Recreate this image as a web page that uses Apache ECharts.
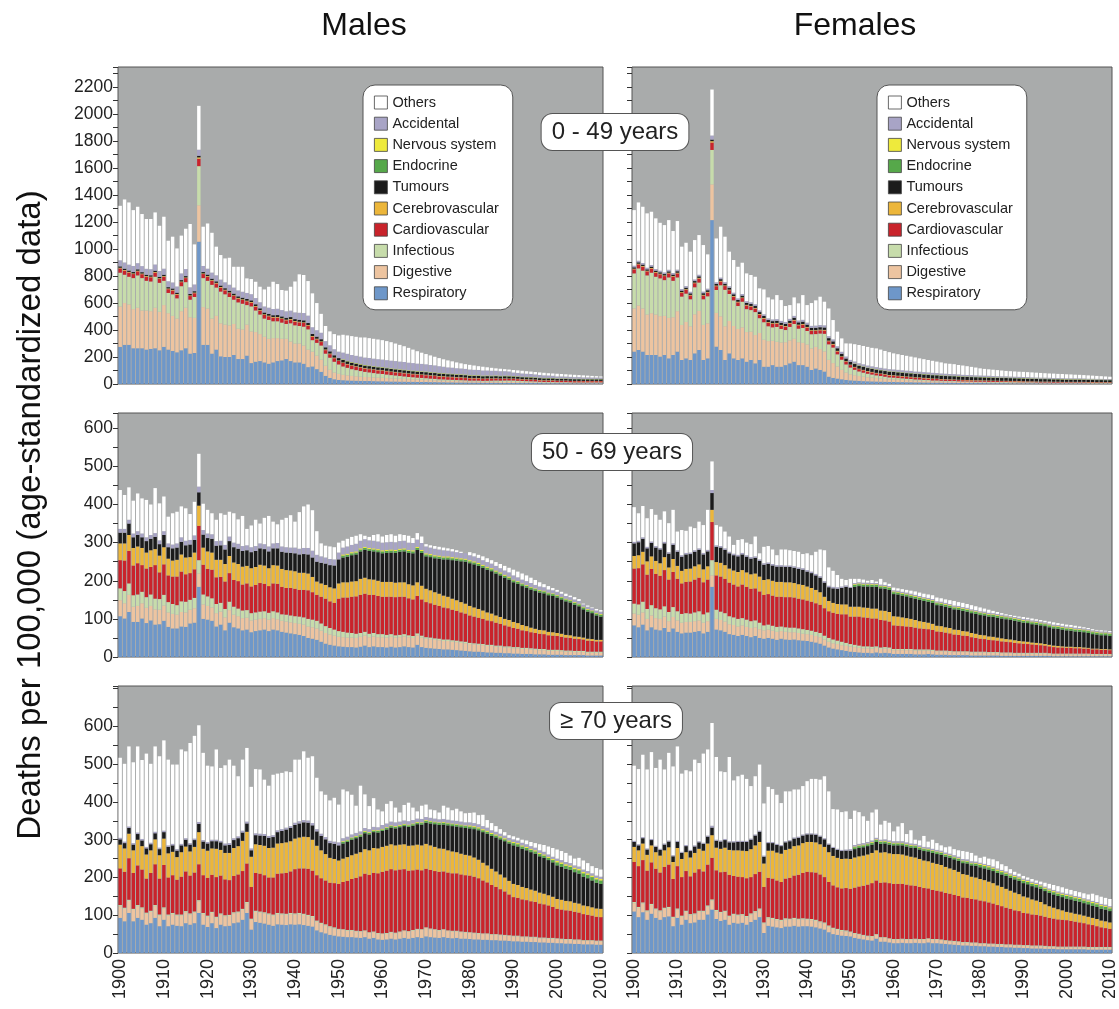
<!DOCTYPE html>
<html>
<head>
<meta charset="utf-8">
<title>Deaths per 100,000 by cause</title>
<script src="https://cdn.jsdelivr.net/npm/echarts@6/dist/echarts.min.js"></script>
<style>
  html, body { margin: 0; padding: 0; background: #fff; }
  #chart { width: 1119px; height: 1009px; }
</style>
</head>
<body>
<div id="chart"></div>
<script>
// years 1900..2010, one value per year in every array below (111 values)
const firstYear = 1900
const lastYear = 2010

const causeNames = ['Respiratory', 'Digestive', 'Infectious', 'Cardiovascular', 'Cerebrovascular',
  'Tumours', 'Endocrine', 'Nervous system', 'Accidental', 'Others']
const legendOrder = ['Others', 'Accidental', 'Nervous system', 'Endocrine', 'Tumours',
  'Cerebrovascular', 'Cardiovascular', 'Infectious', 'Digestive', 'Respiratory']
const causeColors = ['#6e97c9', '#edc4a0', '#c7dcab', '#c9232b', '#ecb63a',
  '#1b1b1b', '#56a84a', '#eeea3c', '#a8a4c6', '#ffffff']

// ---------- Males 0-49 ----------
const respM1 = [
275,290,290,265,265,265,255,260,265,250,
275,255,245,235,250,265,225,230,1055,290,
290,225,255,205,200,200,215,185,185,210,
155,165,170,160,150,160,170,175,185,170,
160,160,150,125,130,110,90,60,45,35,
30,28,26,25,24,23,22,22,21,20,
20,19,18,18,17,17,16,16,15,15,
15,14,14,13,13,12,12,11,11,11,
10,10,10,9,9,9,9,8,8,8,
8,8,7,7,7,7,7,6,6,6,
6,6,6,5,5,5,5,5,5,5,5]
const digM1 = [
300,310,300,290,300,280,290,280,300,285,
310,270,260,250,290,300,270,260,270,280,
270,260,250,245,240,235,230,225,220,230,
235,220,200,190,185,180,170,160,150,145,
140,140,135,130,110,100,90,75,60,50,
45,40,38,35,33,31,30,29,28,27,
26,25,24,23,22,21,20,19,18,17,
16,15,14,13,12,12,11,11,10,10,
9,9,9,8,8,8,8,7,7,7,
7,6,6,6,6,6,5,5,5,5,
5,5,5,5,4,4,4,4,4,4,4]
const infM1 = [
250,210,205,230,240,240,220,220,230,215,
180,150,160,150,185,190,130,155,290,215,
205,250,210,235,225,210,180,195,190,145,
185,160,145,135,140,125,125,120,110,135,
135,130,140,150,85,95,105,90,90,80,
70,62,56,50,46,42,38,35,32,30,
28,26,24,22,20,18,16,15,14,13,
12,11,10,9,9,8,8,7,7,6,
6,6,6,6,7,8,9,10,11,11,
11,10,9,8,7,6,5,4,4,4,
3,3,3,3,3,3,3,3,3,3,3]
const cardM1 = [
32,30,31,30,30,29,30,31,30,29,
30,28,28,27,30,30,27,28,55,30,
30,30,30,29,29,29,28,28,28,28,
28,28,28,27,27,27,27,27,27,27,
27,27,27,27,26,26,26,26,26,26,
26,26,25,25,25,25,24,24,24,24,
24,24,23,23,23,23,23,22,22,22,
22,21,21,20,20,19,19,18,18,17,
17,16,16,15,15,14,14,13,13,12,
12,12,11,11,11,11,10,10,10,10,
10,10,10,9,9,9,9,9,9,9,9]
const cereM1 = [
5,5,5,5,5,5,5,5,5,5,
5,5,5,5,5,5,5,5,10,5,
5,5,5,5,5,5,5,5,5,5,
5,5,5,5,5,5,5,5,5,5,
5,5,5,5,5,5,5,5,5,5,
4,4,4,4,4,4,4,4,4,4,
4,4,4,4,4,4,4,4,4,4,
4,4,4,4,4,4,4,4,4,4,
3,3,3,3,3,3,3,3,3,3,
3,3,3,3,3,3,3,3,3,3,
2,2,2,2,2,2,2,2,2,2,2]
const tumM1 = [
10,10,10,10,10,10,10,10,10,10,
10,10,10,10,10,10,10,10,12,10,
11,11,11,11,11,12,12,12,12,12,
12,13,13,13,13,13,14,14,14,14,
14,14,15,15,15,15,16,16,16,17,
17,18,18,18,18,18,18,18,18,18,
18,18,18,18,18,18,18,18,18,18,
18,18,18,18,17,17,17,17,17,17,
16,16,16,16,16,15,15,15,15,15,
14,14,14,14,14,13,13,13,13,13,
12,12,12,12,12,12,11,11,11,11,11]
const endoM1 = [
0,0,0,0,0,0,0,0,0,0,
0,0,0,0,0,0,0,0,0,0,
0,0,0,0,0,0,0,0,0,0,
0,0,0,0,0,0,0,0,0,0,
0,0,0,0,0,0,0,0,0,0,
0,2,2,2,2,2,2,2,2,2,
2,2,2,2,2,2,2,2,2,2,
2,2,2,2,2,2,2,2,2,2,
2,2,2,2,2,2,2,2,2,2,
2,2,2,2,2,2,2,2,2,2,
2,2,2,2,2,2,2,2,2,2,2]
const nervM1 = [
0,0,0,0,0,0,0,0,0,0,
0,0,0,0,0,0,0,0,0,0,
0,0,0,0,0,0,0,0,0,0,
0,0,0,0,0,0,0,0,0,0,
0,0,0,0,0,0,0,0,0,0,
0,3,3,3,3,3,3,3,3,3,
3,3,3,3,3,3,3,3,3,3,
3,3,3,3,3,3,3,3,3,3,
3,3,3,3,3,3,3,3,3,3,
2,2,2,2,2,2,2,2,2,2,
2,2,2,2,2,2,2,2,2,2,2]
const accM1 = [
45,46,44,45,46,45,44,45,46,44,
45,44,45,46,50,52,50,50,45,45,
44,45,45,44,44,45,45,44,44,45,
46,46,45,45,46,46,47,47,48,48,
50,52,54,55,50,48,48,46,45,45,
48,50,52,53,54,55,55,56,56,56,
56,56,57,57,57,57,56,56,55,55,
54,53,52,50,48,46,45,44,43,42,
41,40,39,38,37,36,35,34,33,32,
26,25,24,23,22,21,20,19,18,16,
14,14,13,13,12,12,11,11,10,10,10]
const totalM1 = [
1321,1368,1346,1289,1314,1260,1223,1223,1272,1173,
1240,1062,1092,1005,1100,1151,1186,1035,2062,1166,
1190,1121,1018,956,931,936,869,869,869,783,
778,758,721,701,721,758,741,697,692,721,
760,813,808,763,672,600,520,430,390,370,
360,365,360,355,350,345,345,340,335,330,
325,318,310,300,290,280,268,255,243,232,
222,212,202,192,183,175,168,160,153,147,
142,137,132,128,124,120,116,113,110,107,
104,101,98,95,92,89,86,83,80,78,
76,74,72,70,68,66,64,62,60,58,56]

// ---------- Females 0-49 ----------
const respF1 = [
240,252,240,215,215,215,203,215,190,215,
240,178,190,178,227,252,178,190,1215,277,
252,178,227,190,178,190,165,178,153,178,
128,128,140,128,128,140,153,165,140,140,
128,104,115,104,92,54,45,40,35,30,
27,25,23,21,20,19,18,17,16,15,
15,14,14,13,13,12,12,11,11,10,
10,10,9,9,9,8,8,8,7,7,
7,7,6,6,6,6,6,5,5,5,
5,5,5,5,4,4,4,4,4,4,
4,4,4,4,4,3,3,3,3,3,3]
const digF1 = [
320,330,320,300,310,300,300,290,300,280,
300,260,270,250,290,290,260,260,265,250,
250,250,240,240,230,230,220,210,210,200,
200,190,180,185,180,170,170,170,170,165,
165,160,160,155,150,125,110,90,70,55,
45,40,36,33,30,28,26,24,22,20,
19,18,17,16,15,14,13,12,11,10,
10,9,9,8,8,8,7,7,7,6,
6,6,6,5,5,5,5,5,5,4,
4,4,4,4,4,4,4,3,3,3,
3,3,3,3,3,3,3,3,3,3,3]
const infF1 = [
260,275,280,290,300,280,280,265,300,270,
250,210,210,200,200,210,190,200,255,170,
230,270,200,190,170,190,170,160,170,110,
130,110,100,110,100,90,100,110,100,110,
100,105,95,115,130,115,115,90,75,60,
50,40,34,30,26,23,20,18,16,14,
13,12,11,10,9,8,8,7,7,6,
6,5,5,5,5,4,4,4,4,4,
4,4,4,4,4,4,4,4,4,4,
4,4,4,3,3,3,3,3,3,3,
3,3,3,3,3,3,3,2,2,2,2]
const cardF1 = [
30,30,30,30,30,30,30,30,30,30,
30,28,28,28,30,30,28,28,55,28,
28,28,28,27,27,27,27,26,26,26,
26,26,26,25,25,25,25,25,25,25,
25,25,24,24,24,23,22,21,20,19,
18,18,17,17,16,16,15,15,15,14,
14,14,13,13,13,12,12,12,11,11,
11,10,10,10,9,9,9,8,8,8,
8,7,7,7,7,6,6,6,6,6,
6,5,5,5,5,5,5,5,5,4,
4,4,4,4,4,4,4,4,4,4,4]
const cereF1 = [
5,5,5,5,5,5,5,5,5,5,
5,5,5,5,5,5,5,5,10,5,
5,5,5,5,5,5,5,5,5,5,
5,5,5,5,5,5,5,5,5,5,
5,5,5,5,5,5,5,5,5,5,
4,4,4,4,4,4,4,4,4,4,
4,4,4,4,4,4,4,4,4,4,
3,3,3,3,3,3,3,3,3,3,
3,3,3,3,3,3,3,3,3,3,
2,2,2,2,2,2,2,2,2,2,
2,2,2,2,2,2,2,2,2,2,2]
const tumF1 = [
10,10,10,10,10,10,10,10,10,11,
11,11,11,11,11,11,12,12,12,12,
12,12,13,13,13,13,14,14,14,14,
15,15,15,15,16,16,16,16,17,17,
17,17,18,18,18,18,19,19,19,20,
20,21,21,22,22,22,23,23,23,24,
24,24,24,24,24,24,24,24,24,24,
24,24,23,23,23,23,22,22,22,22,
21,21,21,21,20,20,20,20,19,19,
19,19,18,18,18,18,17,17,17,17,
16,16,16,16,15,15,15,15,15,14,14]
const endoF1 = [
0,0,0,0,0,0,0,0,0,0,
0,0,0,0,0,0,0,0,0,0,
0,0,0,0,0,0,0,0,0,0,
0,0,0,0,0,0,0,0,0,0,
0,0,0,0,0,0,0,0,0,0,
0,2,2,2,2,2,2,2,2,2,
2,2,2,2,2,2,2,2,2,2,
2,2,2,2,2,2,2,2,2,2,
2,2,2,2,2,2,2,2,2,2,
2,2,2,2,2,2,2,2,2,2,
2,2,2,2,2,2,2,2,2,2,2]
const nervF1 = [
0,0,0,0,0,0,0,0,0,0,
0,0,0,0,0,0,0,0,0,0,
0,0,0,0,0,0,0,0,0,0,
0,0,0,0,0,0,0,0,0,0,
0,0,0,0,0,0,0,0,0,0,
0,2,2,2,2,2,2,2,2,2,
2,2,2,2,2,2,2,2,2,2,
2,2,2,2,2,2,2,2,2,2,
2,2,2,2,2,2,2,2,2,2,
2,2,2,2,2,2,2,2,2,2,
2,2,2,2,2,2,2,2,2,2,2]
const accF1 = [
12,12,12,12,12,12,12,12,12,12,
12,12,12,12,12,12,12,12,30,12,
12,12,12,12,12,12,13,13,13,13,
13,13,13,13,14,14,14,14,14,14,
15,15,16,16,16,15,15,15,15,15,
15,15,15,15,15,15,15,15,15,15,
15,15,15,15,15,14,14,14,14,14,
13,13,13,12,12,12,11,11,11,10,
10,10,10,9,9,9,9,8,8,8,
8,8,7,7,7,7,7,6,6,6,
6,6,6,6,6,5,5,5,5,5,5]
const totalF1 = [
1289,1346,1314,1265,1277,1228,1195,1178,1215,1134,
1208,1018,1047,981,1067,1104,1030,961,2183,1079,
1166,1092,981,919,869,899,820,808,795,709,
701,642,627,659,622,578,585,642,598,659,
585,600,620,647,610,560,474,388,338,301,
300,295,289,282,275,268,264,255,245,236,
227,221,215,209,203,197,190,184,178,172,
166,160,153,150,147,141,137,132,127,122,
116,112,109,106,103,100,97,95,93,91,
90,88,86,84,82,80,78,77,75,74,
72,71,69,68,66,64,62,60,58,56,54]

// ---------- Males 50-69 ----------
const respM2 = [
107,101,118,92,92,101,89,96,85,86,
95,79,75,75,80,79,88,90,184,100,
98,95,80,85,70,90,78,75,70,72,
65,68,70,72,68,72,70,66,64,62,
60,58,55,50,48,45,40,35,32,30,
28,27,26,26,25,27,30,26,28,26,
26,25,27,25,26,28,26,25,32,26,
24,23,22,21,20,20,19,18,17,16,
15,14,14,13,12,12,11,11,10,10,
9,9,8,8,8,7,7,7,6,6,
6,6,5,5,5,5,5,4,4,4,4]
const digM2 = [
42,40,45,40,42,40,40,38,40,38,
40,38,38,36,38,38,36,38,35,38,
36,35,35,34,34,33,33,32,32,31,
31,30,30,30,30,30,29,29,29,29,
29,29,30,30,30,30,29,28,27,26,
25,25,25,25,25,26,26,26,26,26,
26,26,26,26,26,26,26,25,25,25,
24,24,23,23,22,22,21,21,20,20,
19,19,18,18,17,17,16,16,15,15,
14,14,13,13,12,12,11,11,10,10,
10,9,9,9,8,8,8,7,7,7,7]
const infM2 = [
31,32,30,30,30,30,28,30,28,28,
28,27,26,25,28,28,26,27,35,26,
25,24,24,23,22,22,21,20,20,20,
19,19,19,18,18,18,18,17,18,18,
18,19,19,20,20,20,19,18,17,16,
15,14,13,12,11,10,10,9,9,8,
8,7,7,6,6,6,5,5,5,5,
4,4,4,4,4,4,4,4,4,4,
3,3,3,3,3,3,3,3,3,3,
3,3,3,3,3,3,3,3,3,3,
3,3,3,3,3,3,3,3,3,3,3]
const cardM2 = [
74,80,85,78,82,70,75,72,88,70,
80,70,72,75,78,72,70,75,90,78,
72,75,70,68,72,75,70,72,68,70,
70,72,75,72,70,73,75,72,70,72,
72,70,72,75,72,68,70,72,70,70,
85,90,92,95,98,100,100,102,100,100,
98,100,98,100,100,98,97,96,98,95,
92,90,88,86,84,82,80,78,76,74,
72,70,68,66,64,62,60,57,55,52,
50,48,46,44,42,41,40,39,38,37,
36,35,34,33,32,31,30,29,28,27,27]
const cereM2 = [
44,45,42,46,44,45,42,44,42,44,
45,44,42,44,45,44,42,44,53,45,
46,45,46,45,46,45,46,45,47,46,
48,47,48,48,47,48,48,47,47,46,
46,45,45,44,40,35,35,36,37,38,
40,40,40,40,40,42,42,41,40,40,
39,39,39,38,38,38,37,37,36,36,
35,34,33,32,31,30,29,28,27,26,
25,24,23,22,21,20,19,18,17,17,
16,15,14,13,12,11,10,10,9,9,
8,8,7,7,6,6,5,5,5,4,4]
const tumM2 = [
28,28,30,28,30,28,30,30,32,30,
32,30,32,32,33,32,33,33,35,34,
35,36,37,38,38,39,40,40,41,41,
42,42,43,43,44,44,45,45,46,46,
47,48,49,50,51,52,54,56,58,60,
63,65,67,69,70,72,73,74,74,75,
75,76,77,78,80,81,82,84,85,86,
85,87,89,92,95,98,101,104,107,110,
112,113,113,112,112,111,110,109,108,106,
104,103,102,101,100,99,98,97,96,95,
93,90,88,86,83,80,74,71,68,64,61]
const endoM2 = [
0,0,0,0,0,0,0,0,0,0,
0,0,0,0,0,0,0,0,0,0,
0,0,0,0,0,0,0,0,0,0,
0,0,0,0,0,0,0,0,0,0,
0,0,0,0,0,0,0,0,0,0,
0,5,5,5,5,5,5,5,5,5,
5,5,5,5,5,5,5,5,5,5,
5,5,5,5,5,5,5,5,5,5,
5,5,5,5,5,5,5,5,5,5,
5,5,5,5,5,5,5,5,5,5,
5,5,5,5,5,5,5,5,5,5,5]
const nervM2 = [
0,0,0,0,0,0,0,0,0,0,
0,0,0,0,0,0,0,0,0,0,
0,0,0,0,0,0,0,0,0,0,
0,0,0,0,0,0,0,0,0,0,
0,0,0,0,0,0,0,0,0,0,
0,3,3,3,3,3,3,3,3,3,
3,3,3,3,3,3,3,3,3,3,
3,3,3,3,3,3,3,3,3,3,
3,3,3,3,3,3,3,3,3,3,
2,2,2,2,2,2,2,2,2,2,
2,2,2,2,2,2,2,2,2,2,2]
const accM2 = [
10,10,10,10,10,10,10,10,10,10,
10,10,10,11,12,12,12,12,15,12,
12,12,12,12,12,12,12,13,13,13,
13,13,13,13,13,13,14,14,14,14,
15,15,16,17,18,18,17,16,16,16,
18,18,19,19,20,20,20,20,20,20,
20,20,20,20,20,20,19,19,19,18,
18,17,17,16,16,15,15,14,14,14,
13,13,13,12,12,12,12,11,11,11,
11,10,10,10,10,9,9,9,8,8,
8,8,7,7,7,7,6,6,6,6,6]
const totalM2 = [
438,425,445,410,429,416,412,400,443,403,
421,368,377,381,395,390,375,407,533,402,
386,377,360,377,373,381,377,361,370,336,
345,360,350,365,370,355,348,360,365,372,
355,380,395,400,385,330,298,292,290,288,
300,305,310,315,318,322,318,315,320,322,
316,320,322,318,322,320,318,312,325,316,
296,293,291,289,287,285,283,280,276,272,
275,272,268,264,259,254,249,244,239,234,
229,224,219,214,208,202,196,191,186,181,
176,171,166,161,157,152,140,135,130,126,123]

// ---------- Females 50-69 ----------
const respF2 = [
83,78,85,70,78,72,70,76,66,75,
66,62,64,64,66,68,62,66,184,72,
70,66,60,58,55,58,55,52,55,50,
48,50,48,45,48,46,45,46,44,43,
42,40,38,35,30,25,22,20,18,16,
14,13,12,11,11,10,12,10,11,10,
8,8,8,8,8,7,7,7,8,7,
6,6,6,5,5,5,5,5,4,4,
4,4,4,4,4,3,3,3,3,3,
3,3,3,3,3,3,3,2,2,2,
2,2,2,2,2,2,2,2,2,2,2]
const digF2 = [
31,33,32,30,31,30,30,30,28,30,
30,28,28,28,28,28,28,28,30,28,
27,27,26,26,25,25,24,24,23,23,
22,22,21,21,20,20,20,19,19,18,
18,18,17,17,16,15,14,14,13,13,
13,13,12,12,12,12,12,11,11,11,
10,10,10,10,10,10,10,10,9,9,
9,9,9,9,8,8,8,8,8,8,
8,8,7,7,7,7,7,7,6,6,
6,6,6,6,6,6,5,5,5,5,
5,5,5,5,5,5,4,4,4,4,4]
const infF2 = [
26,27,28,26,27,26,25,27,24,26,
24,23,23,22,23,24,22,23,40,24,
22,22,21,20,20,19,19,18,18,17,
13,13,13,13,12,12,12,12,12,12,
11,11,11,11,10,10,10,9,9,8,
7,6,6,5,5,5,4,4,4,4,
3,3,3,3,3,3,3,3,3,3,
2,2,2,2,2,2,2,2,2,2,
2,2,2,2,2,2,2,2,2,2,
2,2,2,2,2,2,2,2,2,2,
2,2,2,2,2,2,2,2,2,2,2]
const cardF2 = [
92,95,98,90,95,90,88,95,85,92,
85,80,82,84,86,88,84,86,100,90,
92,90,88,86,85,88,86,85,84,82,
80,80,79,79,78,79,80,79,78,78,
77,76,75,74,72,70,70,70,72,75,
72,74,76,76,75,74,73,72,70,68,
62,61,60,59,58,57,55,54,53,52,
50,49,47,46,44,43,41,40,38,36,
34,33,32,31,30,29,28,27,26,25,
24,23,22,21,20,19,18,17,16,16,
15,15,14,14,13,13,12,12,11,11,10]
const cereF2 = [
33,34,33,35,33,34,33,34,32,34,
34,33,34,34,35,35,34,35,32,35,
36,36,37,37,38,38,38,38,39,39,
39,39,39,39,39,39,39,38,38,38,
37,36,35,33,30,27,26,26,26,26,
26,26,26,26,26,26,26,25,25,25,
24,24,23,22,21,20,19,18,17,16,
15,15,14,14,13,13,12,12,11,11,
10,10,9,9,8,8,7,7,7,6,
6,6,5,5,5,4,4,4,4,3,
3,3,3,3,3,2,2,2,2,2,2]
const tumF2 = [
33,34,34,34,35,35,36,36,36,37,
37,37,38,38,38,38,39,39,44,40,
40,40,40,40,41,41,41,41,41,41,
40,40,40,40,40,40,40,40,40,40,
39,39,38,38,37,36,38,40,43,46,
49,52,54,55,56,57,57,58,58,58,
58,58,57,57,56,56,56,55,55,55,
54,54,54,53,53,53,53,52,52,52,
52,52,52,52,52,52,52,51,51,51,
49,49,48,48,47,47,46,45,45,44,
43,42,41,40,40,39,38,37,36,36,35]
const endoF2 = [
0,0,0,0,0,0,0,0,0,0,
0,0,0,0,0,0,0,0,0,0,
0,0,0,0,0,0,0,0,0,0,
0,0,0,0,0,0,0,0,0,0,
0,0,0,0,0,0,0,0,0,0,
0,5,5,5,5,5,5,5,5,5,
5,5,5,5,5,5,5,5,5,5,
5,5,5,5,5,5,5,5,5,5,
5,5,5,5,5,5,5,5,5,5,
5,5,5,5,5,5,5,5,5,5,
5,5,5,5,5,5,5,5,5,5,5]
const nervF2 = [
0,0,0,0,0,0,0,0,0,0,
0,0,0,0,0,0,0,0,0,0,
0,0,0,0,0,0,0,0,0,0,
0,0,0,0,0,0,0,0,0,0,
0,0,0,0,0,0,0,0,0,0,
0,2,2,2,2,2,2,2,2,2,
2,2,2,2,2,2,2,2,2,2,
2,2,2,2,2,2,2,2,2,2,
2,2,2,2,2,2,2,2,2,2,
2,2,2,2,2,2,2,2,2,2,
2,2,2,2,2,2,2,2,2,2,2]
const accF2 = [
4,4,4,4,4,4,4,4,4,4,
4,4,4,4,4,4,4,4,8,4,
4,4,4,4,4,4,4,4,4,4,
4,4,4,4,4,4,4,4,4,4,
4,4,4,4,4,4,4,4,4,4,
3,3,3,3,3,3,3,3,3,3,
3,3,3,3,3,3,3,3,3,3,
3,3,3,3,3,3,3,3,3,3,
3,3,3,3,3,3,3,3,3,3,
3,3,3,3,3,3,3,3,3,3,
3,3,3,3,3,3,3,3,3,3,3]
const totalF2 = [
393,377,396,364,388,373,360,382,351,386,
329,333,331,342,338,355,346,386,513,346,
342,329,316,294,307,309,300,296,316,272,
289,291,282,267,282,282,280,278,276,270,
272,267,276,282,280,235,226,215,205,202,
205,205,205,203,200,202,198,205,196,192,
182,180,178,176,174,172,169,166,164,162,
156,154,151,149,147,144,142,139,136,133,
130,127,124,121,118,115,112,110,108,106,
105,103,101,99,97,95,93,91,89,87,
85,84,82,80,78,76,73,71,70,69,68]

// ---------- Males >= 70 ----------
const respM3 = [
93,84,106,84,93,88,75,79,93,71,
88,71,75,72,71,79,75,79,106,75,
69,79,66,75,71,72,79,81,88,106,
62,82,80,78,75,72,76,75,74,76,
75,76,74,72,70,60,55,52,48,46,
44,43,42,42,41,40,42,38,40,36,
35,36,38,36,38,40,38,40,42,40,
44,42,41,40,42,40,39,40,38,38,
37,36,36,35,35,34,34,33,33,32,
31,31,30,30,29,29,28,28,27,27,
26,26,25,25,24,24,23,23,23,22,22]
const digM3 = [
31,33,32,30,31,30,29,30,31,28,
30,28,28,27,28,29,27,28,31,28,
27,27,27,27,26,26,26,26,26,26,
26,27,27,27,27,27,27,27,27,27,
27,27,27,26,25,23,22,21,20,19,
18,18,17,17,16,16,16,15,15,15,
15,15,16,16,17,18,18,19,20,21,
22,21,20,19,19,18,18,17,17,16,
16,16,15,15,15,14,14,14,13,13,
13,13,12,12,12,12,11,11,11,11,
11,10,10,10,10,10,9,9,9,9,9]
const infM3 = [
3,3,3,3,3,3,3,3,3,3,
3,3,3,3,3,3,3,3,3,3,
3,3,3,3,3,3,3,3,3,3,
3,3,3,3,3,3,3,3,3,3,
3,3,3,3,3,3,3,3,3,3,
2,2,2,2,2,2,2,2,2,2,
2,2,2,2,2,2,2,2,2,2,
2,2,2,2,2,2,2,2,2,2,
2,2,2,2,2,2,2,2,2,2,
2,2,2,2,2,2,2,2,2,2,
2,2,2,2,2,2,2,2,2,2,2]
const cardM3 = [
97,95,110,95,105,100,90,100,108,95,
112,98,100,92,100,105,100,103,95,100,
100,98,105,100,95,92,96,98,100,102,
84,100,100,98,95,98,104,106,108,110,
117,118,120,122,120,120,118,116,115,117,
119,125,130,135,140,145,150,152,155,158,
163,165,166,165,164,162,160,158,157,156,
155,155,154,154,153,153,152,152,151,150,
150,148,145,140,135,130,125,120,115,108,
102,100,98,96,94,92,90,88,86,82,
78,77,76,75,73,71,69,67,65,63,62]
const cereM3 = [
63,62,65,60,68,62,64,60,66,62,
70,64,62,60,65,66,64,68,85,70,
72,70,75,68,70,72,74,75,80,84,
80,76,76,78,78,79,80,80,81,80,
81,82,84,84,82,78,74,70,66,64,
62,62,63,63,64,64,65,65,66,66,
66,66,66,66,66,66,66,66,66,66,
66,65,64,62,60,59,58,56,55,54,
53,51,49,47,45,43,41,39,37,36,
35,34,33,32,31,30,29,28,27,27,
26,26,25,25,24,24,23,23,22,22,22]
const tumM3 = [
14,14,15,15,15,15,16,16,16,16,
17,17,17,17,18,18,18,18,22,19,
19,19,20,20,20,21,21,21,22,22,
17,24,25,26,27,28,30,32,34,35,
36,37,38,38,38,38,38,39,39,40,
40,40,40,41,41,41,42,42,42,42,
42,43,44,45,46,48,50,52,54,55,
56,58,60,62,64,66,67,68,70,71,
72,75,78,81,84,87,90,93,96,99,
102,102,101,100,99,98,96,95,93,91,
89,87,85,83,81,79,76,74,71,68,66]
const endoM3 = [
0,0,0,0,0,0,0,0,0,0,
0,0,0,0,0,0,0,0,0,0,
0,0,0,0,0,0,0,0,0,0,
0,0,0,0,0,0,0,0,0,0,
0,0,0,0,0,0,0,0,0,0,
0,4,4,4,4,4,4,4,4,4,
4,4,4,4,4,4,4,4,4,4,
5,5,5,5,5,5,5,5,5,5,
5,5,5,5,5,5,5,5,5,5,
6,6,6,6,6,6,6,6,6,6,
8,8,8,8,8,9,9,9,9,9,9]
const nervM3 = [
0,0,0,0,0,0,0,0,0,0,
0,0,0,0,0,0,0,0,0,0,
0,0,0,0,0,0,0,0,0,0,
0,0,0,0,0,0,0,0,0,0,
0,0,0,0,0,0,0,0,0,0,
0,2,2,2,2,2,2,2,2,2,
2,2,2,2,2,2,2,2,2,2,
2,2,2,2,2,2,2,2,2,2,
3,3,3,3,3,3,3,3,3,3,
3,3,3,3,3,3,3,3,3,3,
4,4,4,4,4,4,4,4,4,4,4]
const accM3 = [
4,4,4,4,4,4,4,4,4,4,
4,4,4,4,4,4,4,4,5,4,
4,4,4,4,5,5,5,5,5,5,
5,5,5,5,5,5,5,5,5,5,
6,6,6,6,6,6,6,6,6,6,
8,8,8,8,8,8,8,8,8,8,
10,10,10,10,9,9,9,9,9,9,
8,8,8,8,8,8,8,8,8,8,
8,8,8,8,8,7,7,7,7,7,
7,7,7,7,7,7,7,7,6,6,
6,6,6,6,6,6,6,6,6,6,6]
const totalM3 = [
517,501,547,505,547,511,528,501,547,521,
563,512,499,499,539,534,556,575,603,530,
496,494,539,490,497,512,496,468,512,543,
440,487,486,459,443,472,475,477,481,479,
512,512,534,517,521,464,428,419,404,411,
393,433,428,419,390,443,420,389,410,380,
375,395,402,385,372,392,398,385,375,390,
393,380,378,372,390,385,378,382,375,370,
371,372,365,366,352,344,336,328,320,312,
309,305,300,298,294,291,288,286,282,278,
274,270,265,258,250,252,245,238,230,225,221]

// ---------- Females >= 70 ----------
const respF3 = [
110,95,108,88,104,93,88,95,97,71,
93,75,88,79,81,88,88,102,115,90,
85,88,75,80,78,80,75,82,88,95,
53,72,70,68,66,70,70,72,70,71,
71,70,68,65,62,55,50,48,46,45,
44,40,38,36,34,33,38,30,30,28,
26,26,27,26,26,27,26,26,28,26,
26,25,24,23,22,21,20,20,19,19,
18,18,17,17,16,16,15,15,14,14,
13,13,12,12,12,11,11,11,10,10,
10,10,10,10,10,9,9,9,9,9,9]
const digF3 = [
22,24,23,22,23,22,22,22,22,22,
22,21,21,21,21,21,21,21,24,21,
21,21,21,21,21,20,20,20,20,20,
25,20,20,19,19,19,18,18,18,18,
17,17,17,16,16,15,14,13,12,12,
11,11,11,10,10,10,10,10,10,9,
9,9,9,9,9,9,9,9,9,9,
9,9,8,8,8,8,7,7,7,7,
6,6,6,6,6,6,6,6,6,6,
6,6,6,6,6,6,5,5,5,5,
5,5,5,5,5,5,5,5,5,5,5]
const infF3 = [
3,3,3,3,3,3,3,3,3,3,
3,3,3,3,3,3,3,3,3,3,
3,3,3,3,3,3,3,3,3,3,
3,3,3,3,3,3,3,3,3,3,
3,3,3,3,3,3,3,3,3,3,
2,2,2,2,2,2,2,2,2,2,
2,2,2,2,2,2,2,2,2,2,
2,2,2,2,2,2,2,2,2,2,
2,2,2,2,2,2,2,2,2,2,
2,2,2,2,2,2,2,2,2,2,
2,2,2,2,2,2,2,2,2,2,2]
const cardF3 = [
106,108,112,105,110,105,100,108,112,100,
112,102,105,100,108,110,104,108,110,105,
105,103,108,100,100,98,100,96,98,97,
94,104,104,102,100,105,108,112,116,120,
124,124,125,124,120,115,112,110,110,112,
113,120,125,130,135,140,142,144,145,146,
146,146,145,144,142,140,138,135,132,130,
128,127,125,124,122,120,118,117,115,114,
113,111,109,106,103,100,97,94,91,89,
85,84,82,81,79,77,75,73,72,71,
70,68,66,64,62,60,58,55,52,50,48]
const cereF3 = [
40,42,44,42,45,44,45,44,46,45,
48,48,50,50,52,54,55,56,60,60,
62,64,66,68,70,70,72,74,76,79,
62,72,74,74,75,76,77,78,78,79,
79,80,80,80,80,79,78,78,78,78,
79,80,80,80,80,80,80,80,80,79,
79,79,78,77,76,75,74,73,72,72,
71,70,69,67,66,64,62,61,59,58,
57,56,55,54,52,51,50,48,47,45,
44,42,40,38,36,33,31,29,27,25,
22,22,21,21,20,20,19,19,18,18,17]
const tumF3 = [
13,13,14,14,14,14,15,15,15,15,
16,16,16,17,17,17,18,18,20,18,
19,20,20,21,22,23,24,25,26,27,
18,20,20,20,20,20,20,20,20,20,
20,20,20,20,20,20,21,21,21,21,
22,22,22,22,22,22,22,23,23,23,
23,23,24,24,24,25,25,25,26,26,
26,27,27,28,28,29,29,30,30,31,
31,31,32,32,33,33,34,34,35,35,
35,35,35,35,35,35,35,35,35,35,
35,35,34,34,33,33,32,32,31,31,30]
const endoF3 = [
0,0,0,0,0,0,0,0,0,0,
0,0,0,0,0,0,0,0,0,0,
0,0,0,0,0,0,0,0,0,0,
0,0,0,0,0,0,0,0,0,0,
0,0,0,0,0,0,0,0,0,0,
0,5,5,5,5,5,5,5,5,5,
5,5,5,5,5,5,5,5,5,5,
5,5,5,5,5,5,5,5,5,5,
6,6,6,6,6,6,6,6,6,6,
6,6,6,6,6,6,6,6,6,6,
7,7,7,7,7,7,7,7,7,7,7]
const nervF3 = [
0,0,0,0,0,0,0,0,0,0,
0,0,0,0,0,0,0,0,0,0,
0,0,0,0,0,0,0,0,0,0,
0,0,0,0,0,0,0,0,0,0,
0,0,0,0,0,0,0,0,0,0,
0,2,2,2,2,2,2,2,2,2,
2,2,2,2,2,2,2,2,2,2,
2,2,2,2,2,2,2,2,2,2,
3,3,3,3,3,3,3,3,3,3,
3,3,3,3,3,3,3,3,3,3,
3,3,3,3,3,3,3,3,3,3,3]
const accF3 = [
3,3,3,3,3,3,3,3,3,3,
3,3,3,3,3,3,3,3,5,3,
3,3,3,3,3,3,3,3,3,3,
3,3,3,3,3,3,3,3,3,3,
3,3,3,3,3,3,3,3,3,3,
4,4,4,4,4,4,4,4,4,4,
4,4,4,4,4,4,4,4,4,4,
4,4,4,4,4,4,4,4,4,4,
3,3,3,3,3,3,3,3,3,3,
3,3,3,3,3,3,3,3,3,3,
3,3,3,3,3,3,3,3,3,3,3]
const totalF3 = [
496,487,525,486,532,490,512,486,530,494,
547,475,484,481,512,503,528,539,609,519,
481,479,519,457,468,472,461,442,468,499,
396,440,434,419,397,428,428,433,433,442,
455,461,461,459,468,428,381,380,373,375,
355,377,373,362,350,372,380,340,350,345,
322,335,344,315,325,300,298,310,295,300,
291,285,280,282,275,272,270,268,265,258,
252,255,250,248,243,235,230,222,215,210,
204,200,196,192,189,186,183,180,177,174,
170,167,164,161,158,155,157,153,149,146,143]

// panels: Males / Females for 0-49, 50-69, >=70
const panelSeries = [
  [respM1, digM1, infM1, cardM1, cereM1, tumM1, endoM1, nervM1, accM1, totalM1],
  [respF1, digF1, infF1, cardF1, cereF1, tumF1, endoF1, nervF1, accF1, totalF1],
  [respM2, digM2, infM2, cardM2, cereM2, tumM2, endoM2, nervM2, accM2, totalM2],
  [respF2, digF2, infF2, cardF2, cereF2, tumF2, endoF2, nervF2, accF2, totalF2],
  [respM3, digM3, infM3, cardM3, cereM3, tumM3, endoM3, nervM3, accM3, totalM3],
  [respF3, digF3, infF3, cardF3, cereF3, tumF3, endoF3, nervF3, accF3, totalF3]
]
const yMax = [2350, 2350, 640, 640, 707, 707]
const yStep = [200, 200, 100, 100, 100, 100]
const yLastLabel = [2200, 2200, 600, 600, 600, 600]
const ageLabels = ['0 - 49 years', '50 - 69 years', '\u2265 70 years']

const yearCats = []
for (let y = firstYear; y <= lastYear; y++) yearCats.push(String(y))

const grids = [
  { left: 118, top: 67, width: 485, height: 317 },
  { left: 632, top: 67, width: 480, height: 317 },
  { left: 118, top: 413, width: 485, height: 244 },
  { left: 632, top: 413, width: 480, height: 244 },
  { left: 118, top: 686, width: 485, height: 267 },
  { left: 632, top: 686, width: 480, height: 267 }
].map(g => Object.assign(g, {
  show: true, backgroundColor: '#a9abab', borderColor: '#555', borderWidth: 1
}))

const font = 'Liberation Sans, Arial, Helvetica, sans-serif'

const xAxes = grids.map((g, i) => ({
  gridIndex: i,
  type: 'category',
  data: yearCats,
  axisLine: { show: false },
  axisTick: { show: false },
  axisLabel: {
    show: i >= 4,
    rotate: 90,
    margin: 6,
    fontSize: 18,
    fontFamily: font,
    color: '#222',
    interval: (idx, val) => +val % 10 === 0
  }
}))

const yAxes = grids.map((g, i) => ({
  gridIndex: i,
  type: 'value',
  min: 0,
  max: yMax[i],
  interval: yStep[i],
  splitLine: { show: false },
  axisLine: { show: false },
  axisTick: { show: true, length: 5, lineStyle: { color: '#333' } },
  minorTick: { show: true, splitNumber: 2, length: 5, lineStyle: { color: '#333' } },
  axisLabel: {
    show: i % 2 === 0,
    margin: 5,
    fontSize: 17.5,
    fontFamily: font,
    color: '#222',
    formatter: v => (v > yLastLabel[i] ? '' : v)
  }
}))

const series = []
panelSeries.forEach((arrs, p) => {
  const total = arrs[9]
  const others = total.map((t, k) => {
    let s = 0
    for (let c = 0; c < 9; c++) s += arrs[c][k]
    return Math.max(0, t - s)
  })
  const parts = arrs.slice(0, 9).concat([others])
  parts.forEach((vals, c) => {
    series.push({
      type: 'bar',
      name: causeNames[c],
      xAxisIndex: p,
      yAxisIndex: p,
      stack: 'panel' + p,
      barCategoryGap: '22%',
      itemStyle: { color: causeColors[c] },
      emphasis: { disabled: true },
      data: vals
    })
  })
})

const legendBase = {
  orient: 'vertical',
  top: 85,
  data: legendOrder,
  itemWidth: 13,
  itemHeight: 13,
  itemGap: 6.2,
  icon: 'rect',
  padding: [10, 14, 9, 11],
  backgroundColor: '#fff',
  borderColor: '#555',
  borderWidth: 1,
  borderRadius: 12,
  itemStyle: { borderColor: '#444', borderWidth: 0.8 },
  textStyle: { fontSize: 14.5, fontFamily: font, color: '#222' }
}

const ageBox = (txt, x, y) => ({
  type: 'text',
  x: x,
  y: y,
  z: 100,
  style: {
    text: txt,
    fontSize: 24,
    fontFamily: font,
    fill: '#222',
    align: 'center',
    verticalAlign: 'middle',
    backgroundColor: '#fff',
    borderColor: '#555',
    borderWidth: 1,
    borderRadius: 11,
    padding: [7, 10, 5, 10]
  }
})

const option = {
  animation: false,
  backgroundColor: '#fff',
  grid: grids,
  xAxis: xAxes,
  yAxis: yAxes,
  legend: [
    Object.assign({ left: 363 }, legendBase),
    Object.assign({ left: 877 }, legendBase)
  ],
  series: series,
  graphic: [
    { type: 'text', x: 364, y: 26, style: { text: 'Males', fontSize: 32, fontFamily: font, fill: '#111', align: 'center', verticalAlign: 'middle' } },
    { type: 'text', x: 855, y: 26, style: { text: 'Females', fontSize: 32, fontFamily: font, fill: '#111', align: 'center', verticalAlign: 'middle' } },
    { type: 'text', x: 31, y: 515, rotation: Math.PI / 2, style: { text: 'Deaths per 100,000 (age-standardized data)', fontSize: 33, fontFamily: font, fill: '#111', align: 'center', verticalAlign: 'middle' } },
    ageBox(ageLabels[0], 615, 132),
    ageBox(ageLabels[1], 612, 452),
    ageBox(ageLabels[2], 616, 721)
  ]
}

const chart = echarts.init(document.getElementById('chart'), null, { renderer: 'canvas' })
chart.setOption(option)
</script>
</body>
</html>
